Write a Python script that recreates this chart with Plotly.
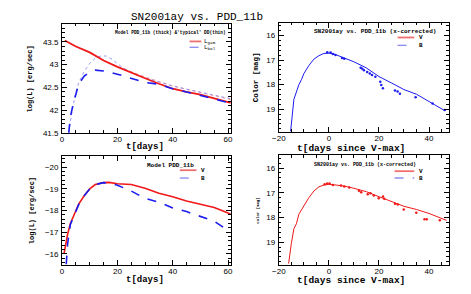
import plotly.graph_objects as go

# ---------------- data ----------------
# Panel 1: luminosities (log L)
tl_gam_t = [1, 5, 10, 12, 15, 20, 25, 30, 35, 40, 45, 50, 55, 60, 61]
tl_gam_v = [43.53, 43.40, 43.27, 43.20, 43.09, 42.95, 42.82, 42.70, 42.58, 42.47, 42.40, 42.34, 42.26, 42.18, 42.16]
tl_gamthin_t = [1, 5, 10, 15, 20, 25, 30, 35, 40, 45, 50, 55, 60, 61]
tl_gamthin_v = [43.53, 43.40, 43.27, 43.10, 42.96, 42.84, 42.73, 42.63, 42.53, 42.46, 42.39, 42.32, 42.25, 42.23]
tl_bol_t = [2.4, 3, 4, 5, 6, 8, 10, 12, 15, 20, 25, 30, 35, 40, 45, 50, 55, 60, 61]
tl_bol_v = [41.5, 41.85, 42.13, 42.38, 42.57, 42.75, 42.84, 42.88, 42.86, 42.79, 42.70, 42.61, 42.57, 42.47, 42.40, 42.32, 42.25, 42.17, 42.15]
tl_bolthin_t = [2.5, 3, 4, 5, 6, 8, 10, 12, 14, 16, 18, 20, 22, 25, 30, 35, 40, 45, 50, 55, 60, 61]
tl_bolthin_v = [41.5, 41.75, 42.10, 42.40, 42.60, 42.85, 43.03, 43.14, 43.19, 43.19, 43.12, 43.02, 42.93, 42.83, 42.71, 42.62, 42.53, 42.46, 42.39, 42.32, 42.26, 42.25]

# Panel 2: B model vs data
tr_mod_t = [-15.3, -14.6, -14, -13, -12, -11, -10, -8, -6, -4, -2, 0, 2, 5, 10, 15, 20, 25, 30, 35, 40, 46]
tr_mod_m = [19.9, 19.3, 18.6, 18.3, 18.0, 17.8, 17.55, 17.22, 16.96, 16.82, 16.73, 16.72, 16.75, 16.87, 17.07, 17.32, 17.67, 17.93, 18.20, 18.39, 18.67, 19.04]
tr_obs_t = [-0.65, 0.65, 1.57, 2.61, 5.23, 6.14, 12.68, 13.33, 13.99, 15.29, 16.34, 17.25, 18.56, 20.52, 20.92, 21.57, 26.4, 27.45, 28.37, 34.64, 41.4, 46.27]
tr_obs_m = [16.68, 16.69, 16.75, 16.79, 16.91, 16.95, 17.31, 17.35, 17.41, 17.48, 17.55, 17.61, 17.68, 17.88, 18.01, 18.15, 18.24, 18.28, 18.37, 18.51, 18.77, 19.03]

# Panel 3: model light curves (absolute mag)
bl_v_t = [0.7, 1.5, 2, 3, 4, 5, 6, 8, 10, 12, 15, 17, 20, 25, 30, 35, 40, 45, 50, 55, 60, 61]
bl_v_m = [-16.0, -16.6, -16.9, -17.4, -17.73, -18.03, -18.3, -18.68, -19.0, -19.2, -19.29, -19.3, -19.24, -19.2, -19.03, -18.8, -18.64, -18.44, -18.29, -18.14, -17.88, -17.84]
bl_b_t = [1.5, 2, 3, 4, 6, 8, 10, 12, 15, 18, 20, 25, 30, 35, 40, 45, 50, 55, 60, 61]
bl_b_m = [-15.5, -16.45, -17.36, -17.66, -18.27, -18.68, -19.0, -19.2, -19.29, -19.24, -19.17, -18.9, -18.56, -18.38, -18.12, -17.95, -17.73, -17.5, -17.08, -17.0]

# Panel 4: V model vs data
br_mod_t = [-16.1, -15.6, -15, -14, -13, -12, -10, -8, -6, -4, -2, 0, 3, 6, 10, 15, 20, 25, 30, 35, 40, 47]
br_mod_m = [19.87, 19.4, 19.05, 18.46, 18.26, 17.87, 17.54, 17.2, 16.93, 16.76, 16.69, 16.66, 16.69, 16.73, 16.82, 16.96, 17.16, 17.36, 17.55, 17.68, 17.84, 18.12]
br_obs_t = [-1.7, -0.65, 0.26, 1.57, 4.84, 6.14, 8.1, 12.0, 12.9, 15.5, 16.6, 17.9, 19.9, 21.6, 22.1, 26.4, 27.5, 29.9, 34.9, 38.2, 39.1, 44.3]
br_obs_m = [16.66, 16.63, 16.63, 16.69, 16.71, 16.75, 16.79, 16.92, 16.98, 17.06, 17.02, 17.11, 17.22, 17.15, 17.24, 17.45, 17.48, 17.68, 17.81, 18.07, 18.07, 18.11]

title_text = "SN2001ay vs. PDD_11b"

# ---------------- figure ----------------
W, H = 471, 294
RED = "#f01818"
BLUE = "#1c1cf0"
MONO = "Liberation Mono, Courier New, monospace"
SANS = "Liberation Sans, Arial, sans-serif"

fig = go.Figure()

def px(x):
    return x / W

def py(y):
    return 1 - y / H

# panel 1
fig.add_trace(go.Scatter(x=tl_gamthin_t, y=tl_gamthin_v, mode="lines", line=dict(color="#f08080", width=0.8, dash="dot"), xaxis="x", yaxis="y"))
fig.add_trace(go.Scatter(x=tl_bolthin_t, y=tl_bolthin_v, mode="lines", line=dict(color="#8080f0", width=0.8, dash="dot"), xaxis="x", yaxis="y"))
fig.add_trace(go.Scatter(x=tl_gam_t, y=tl_gam_v, mode="lines", line=dict(color=RED, width=1.8), xaxis="x", yaxis="y"))
fig.add_trace(go.Scatter(x=tl_bol_t, y=tl_bol_v, mode="lines", line=dict(color=BLUE, width=1.6, dash="dash"), xaxis="x", yaxis="y"))
# panel 2
fig.add_trace(go.Scatter(x=tr_mod_t, y=tr_mod_m, mode="lines", line=dict(color=BLUE, width=1), xaxis="x2", yaxis="y2"))
fig.add_trace(go.Scatter(x=tr_obs_t, y=tr_obs_m, mode="markers", marker=dict(color=BLUE, size=2.5), xaxis="x2", yaxis="y2"))
# panel 3
fig.add_trace(go.Scatter(x=bl_v_t, y=bl_v_m, mode="lines", line=dict(color=RED, width=1.6), xaxis="x3", yaxis="y3"))
fig.add_trace(go.Scatter(x=bl_b_t, y=bl_b_m, mode="lines", line=dict(color=BLUE, width=1.6, dash="dash"), xaxis="x3", yaxis="y3"))
# panel 4
fig.add_trace(go.Scatter(x=br_mod_t, y=br_mod_m, mode="lines", line=dict(color=RED, width=1), xaxis="x4", yaxis="y4"))
fig.add_trace(go.Scatter(x=br_obs_t, y=br_obs_m, mode="markers", marker=dict(color=RED, size=2.5), xaxis="x4", yaxis="y4"))

def ax(domain, rng, dtick, minor, anchor, standoff=0):
    return dict(domain=domain, range=rng, dtick=dtick, tick0=0, anchor=anchor,
                showline=True, linecolor="black", linewidth=1, mirror="allticks",
                ticks="inside", ticklen=5, tickwidth=0.8, tickcolor="black",
                minor=dict(dtick=minor, ticks="inside", ticklen=2.5, tickcolor="black", tickwidth=0.6),
                showgrid=False, zeroline=False, ticklabelstandoff=standoff,
                tickfont=dict(family=SANS, size=8, color="black"))

L, R = [px(48), px(220)], [px(269), px(442)]
fig.update_layout(
    xaxis=ax(L, [0, 61], 20, 5, "y", -1),
    yaxis=ax([py(127), py(16)], [41.5, 43.9], 0.5, 0.1, "x", 1),
    xaxis2=ax(R, [-20, 47.8], 20, 5, "y2", -1),
    yaxis2=ax([py(126), py(15)], [19.92, 15.48], 1, 0.2, "x2", 1),
    xaxis3=ax(L, [0, 61], 20, 5, "y3", -1),
    yaxis3=ax([py(261), py(151)], [-15.5, -20.5], 1, 0.2, "x3", 1),
    xaxis4=ax(R, [-20, 47.8], 20, 5, "y4", -1),
    yaxis4=ax([py(261), py(150)], [19.91, 15.49], 1, 0.2, "x4", 1),
)

annots = []
def txt(x, y, s, size=8, family=MONO, angle=0, xanchor="center", bold=False):
    if bold:
        s = "<b>" + s + "</b>"
    annots.append(dict(x=px(x), y=py(y), xref="paper", yref="paper", text=s, showarrow=False,
                       font=dict(family=family, size=size, color="black"), textangle=angle,
                       xanchor=xanchor, yanchor="middle"))

txt(186, 9, title_text, size=11)
# axis titles
txt(15, 72, "log(L) [erg/sec]", size=7, angle=-90, bold=True)
txt(133, 141, "t[days]", size=9, bold=True)
txt(245, 70, "Color [mag]", size=7.5, angle=-90, bold=True)
txt(343, 143, "t[days since V-max]", size=9.5, bold=True)
txt(18, 206, "log(L) [erg/sec]", size=7, angle=-90, bold=True)
txt(133, 277, "t[days]", size=9, bold=True)
txt(248, 206, "Color [mag]", size=4, angle=-90, bold=True)
txt(343, 277, "t[days since V-max]", size=9.5, bold=True)
# in-panel legends
txt(100, 25, "Model PDD_11b (thick) &'typical' DD(thin)", size=4.5, bold=True, xanchor="left")
txt(191, 34, "L<sub>gam</sub>", size=6, xanchor="left")
txt(191, 40, "L<sub>bol</sub>", size=6, xanchor="left")
txt(303, 24, "SN2001ay vs. PDD_11b (x-corrected)", size=6, bold=True, xanchor="left")
txt(410, 30, "V", size=6, xanchor="left", bold=True)
txt(410, 38, "B", size=6, xanchor="left", bold=True)
txt(133, 160, "Model PDD_11b", size=6, bold=True, xanchor="left")
txt(188, 165, "V", size=6, xanchor="left", bold=True)
txt(188, 173, "B", size=6, xanchor="left", bold=True)
txt(303, 160, "SN2001ay vs. PDD_11b (x-corrected)", size=5, bold=True, xanchor="left")
txt(410, 166, "V", size=6, xanchor="left", bold=True)
txt(410, 173, "B", size=6, xanchor="left", bold=True)

shapes = []
def seg(x0, x1, y, color, dash="solid", width=1.8):
    shapes.append(dict(type="line", xref="paper", yref="paper", x0=px(x0), x1=px(x1), y0=py(y), y1=py(y),
                       line=dict(color=color, width=width, dash=dash)))
seg(178, 190, 34, "#f07070")
seg(178, 190, 40, "#9090f0", "dash", 1.4)
seg(390, 407, 30, "#f07070")
seg(390, 407, 38, "#9090f0", "dash", 1.4)
seg(168, 185, 165, "#f07070")
seg(168, 185, 173, "#9090f0", "dash", 1.4)
seg(387, 407, 166, "#f07070")
seg(387, 407, 173, "#9090f0", "dash", 1.4)

fig.update_layout(width=W, height=H, margin=dict(l=0, r=0, t=0, b=0),
                  paper_bgcolor="white", plot_bgcolor="white", showlegend=False,
                  annotations=annots, shapes=shapes)

fig.write_html("out.html")
